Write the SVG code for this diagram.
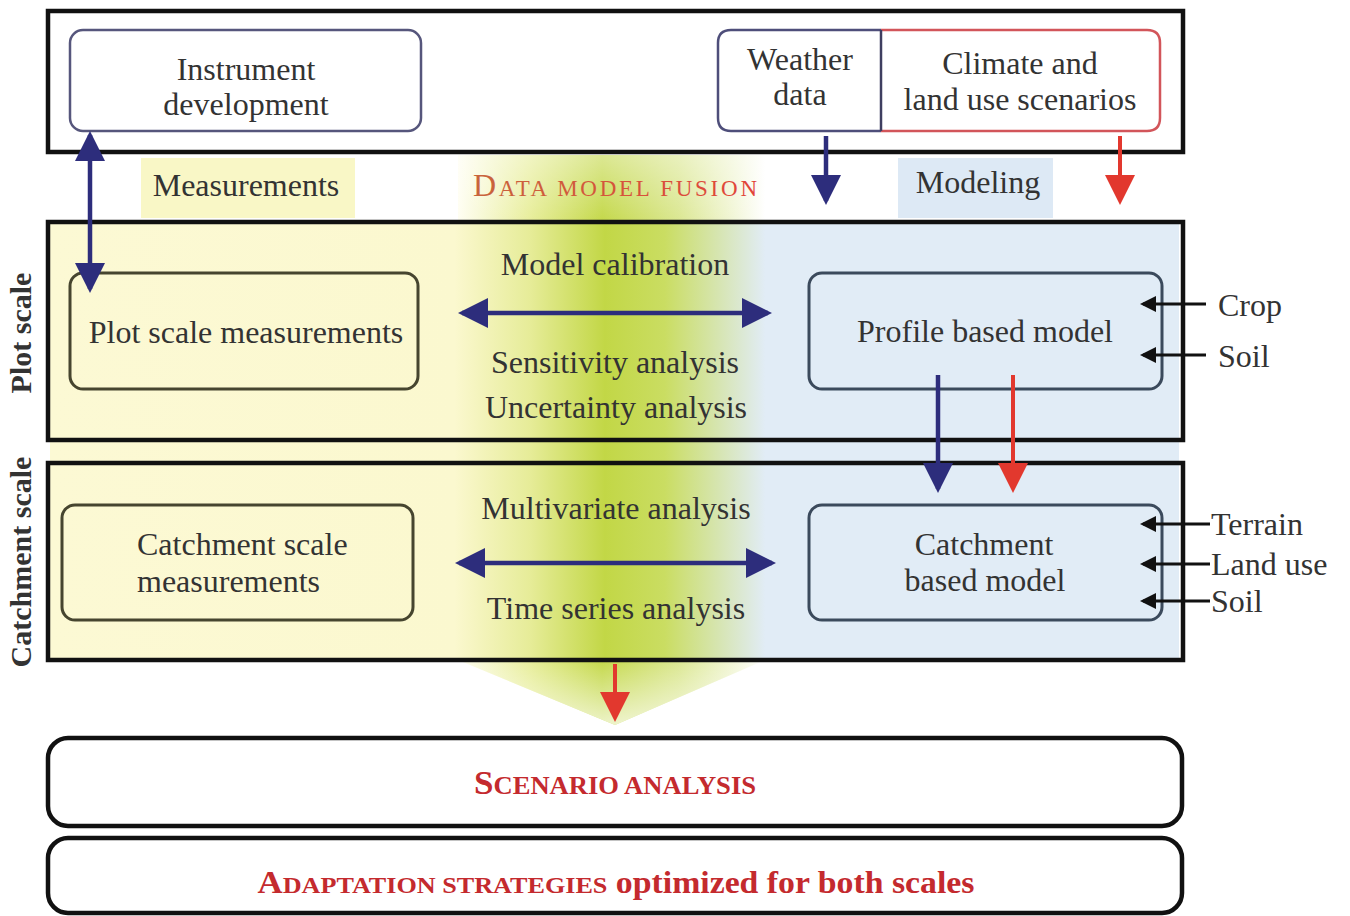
<svg xmlns="http://www.w3.org/2000/svg" width="1350" height="916" viewBox="0 0 1350 916">
<defs>
<style>
text { font-family: "Liberation Serif", "Times New Roman", serif; fill: #333; font-size: 32px; }
.mid { text-anchor: middle; }
.frame { fill: none; stroke: #111; stroke-width: 4.5; }
.rbox { fill: none; stroke-width: 3; }
.meas { stroke: #46452f; }
.model { stroke: #3b4a5c; }
.big { fill: #fff; stroke: #111; stroke-width: 4.5; }
.red { fill: #c42a2e; font-weight: bold; }
.blue { stroke: #2d2d7c; stroke-width: 4.5; fill: none; }
.redl { stroke: #e2382e; stroke-width: 4; fill: none; }
.blk { stroke: #111; stroke-width: 3; fill: none; }
.vlab { font-weight: bold; font-size: 30px; }
</style>
<linearGradient id="bg" gradientUnits="userSpaceOnUse" x1="50" y1="0" x2="1180" y2="0">
<stop offset="0" stop-color="#fcf9d4"/>
<stop offset="0.358" stop-color="#fbf8cf"/>
<stop offset="0.425" stop-color="#e6ec98"/>
<stop offset="0.491" stop-color="#c2d746"/>
<stop offset="0.544" stop-color="#cadd62"/>
<stop offset="0.633" stop-color="#e1ecf6"/>
<stop offset="1" stop-color="#e1ecf6"/>
</linearGradient>
<linearGradient id="bgTop" gradientUnits="userSpaceOnUse" x1="458" y1="0" x2="765" y2="0">
<stop offset="0" stop-color="#fffef2"/>
<stop offset="0.23" stop-color="#e8ee9c"/>
<stop offset="0.47" stop-color="#c4d84a"/>
<stop offset="0.72" stop-color="#dbe792"/>
<stop offset="1" stop-color="#ffffff"/>
</linearGradient>
<linearGradient id="topfade" gradientUnits="userSpaceOnUse" x1="0" y1="155" x2="0" y2="222">
<stop offset="0" stop-color="#fff" stop-opacity="0.4"/>
<stop offset="1" stop-color="#fff" stop-opacity="0"/>
</linearGradient>
<linearGradient id="botfade" gradientUnits="userSpaceOnUse" x1="0" y1="660" x2="0" y2="725">
<stop offset="0" stop-color="#fff" stop-opacity="0"/>
<stop offset="1" stop-color="#fff" stop-opacity="0.7"/>
</linearGradient>
<linearGradient id="fusion" gradientUnits="userSpaceOnUse" x1="473" y1="0" x2="757" y2="0">
<stop offset="0" stop-color="#c8643c"/>
<stop offset="1" stop-color="#e2443a"/>
</linearGradient>
<marker id="hb" viewBox="0 0 30 30" refX="26" refY="15" markerWidth="30" markerHeight="30" markerUnits="userSpaceOnUse" orient="auto-start-reverse">
<path d="M0,0 L30,15 L0,30 Z" fill="#2d2d7c"/>
</marker>
<marker id="hr" viewBox="0 0 30 30" refX="26" refY="15" markerWidth="30" markerHeight="30" markerUnits="userSpaceOnUse" orient="auto-start-reverse">
<path d="M0,0 L30,15 L0,30 Z" fill="#e2382e"/>
</marker>
<marker id="hk" viewBox="0 0 16 16" refX="13" refY="8" markerWidth="16" markerHeight="16" markerUnits="userSpaceOnUse" orient="auto">
<path d="M0,0 L16,8 L0,16 Z" fill="#111"/>
</marker>
</defs>

<rect x="0" y="0" width="1350" height="916" fill="#fff"/>

<g id="background">
<path d="M50,222 H1179 V660 H50 Z" fill="url(#bg)"/>
<rect x="458" y="155" width="307" height="67" fill="url(#bgTop)"/>
<rect x="458" y="155" width="307" height="67" fill="url(#topfade)"/>
<path d="M458,660 H765 L615,725 Z" fill="url(#bgTop)"/>
<path d="M458,660 H765 L615,725 Z" fill="url(#botfade)"/>
<rect x="141" y="158" width="214" height="60" fill="#f9f7c6"/>
<rect x="898" y="158" width="155" height="60" fill="#dde9f5"/>
</g>

<g id="top-frame">
<rect class="big" x="48" y="11" width="1135" height="141"/>
</g>

<g id="instrument">
<rect x="70" y="30" width="351" height="101" rx="13" fill="#fff" stroke="#56567c" stroke-width="2.5"/>
<text class="mid" x="246" y="80">Instrument</text>
<text class="mid" x="246" y="115">development</text>
</g>

<g id="weather">
<path d="M881,30 H731 Q718,30 718,43 V118 Q718,131 731,131 H881" fill="#fff" stroke="#4e4e7a" stroke-width="2.5"/>
<text class="mid" x="800" y="70">Weather</text>
<text class="mid" x="800" y="105">data</text>
</g>

<g id="climate">
<path d="M881,30 H1147 Q1160,30 1160,43 V118 Q1160,131 1147,131 H881" fill="#fff" stroke="#d2555a" stroke-width="2.5"/>
<line x1="881" y1="30" x2="881" y2="131" stroke="#3e3e60" stroke-width="2.5"/>
<text class="mid" x="1020" y="74">Climate and</text>
<text class="mid" x="1020" y="110">land use scenarios</text>
</g>

<g id="measurements-label">
<text class="mid" x="246" y="196">Measurements</text>
</g>

<g id="fusion-label">
<text class="mid" x="615" y="196" style="fill:url(#fusion)" textLength="284" lengthAdjust="spacing"><tspan font-size="32">D</tspan><tspan font-size="23">ATA MODEL FUSION</tspan></text>
</g>

<g id="modeling-label">
<text class="mid" x="978" y="193">Modeling</text>
</g>

<g id="plot-frame">
<rect class="frame" x="48" y="222" width="1135" height="218"/>
<text class="mid vlab" transform="translate(31,333) rotate(-90)">Plot scale</text>
</g>

<g id="catchment-frame">
<rect class="frame" x="48" y="463" width="1135" height="197"/>
<text class="mid vlab" transform="translate(31,562) rotate(-90)">Catchment scale</text>
</g>

<g id="plot-measurements">
<rect class="rbox meas" x="70" y="273" width="348" height="116" rx="13"/>
<text class="mid" x="246" y="343">Plot scale measurements</text>
</g>

<g id="profile-model">
<rect class="rbox model" x="809" y="273" width="353" height="116" rx="13"/>
<text class="mid" x="985" y="342">Profile based model</text>
</g>

<g id="catchment-measurements">
<rect class="rbox meas" x="62" y="505" width="351" height="115" rx="13"/>
<text x="137" y="555">Catchment scale</text>
<text x="137" y="592">measurements</text>
</g>

<g id="catchment-model">
<rect class="rbox model" x="809" y="505" width="353" height="115" rx="13"/>
<text class="mid" x="984" y="555">Catchment</text>
<text class="mid" x="985" y="591">based model</text>
</g>

<g id="analysis-labels">
<text class="mid" x="615" y="275">Model calibration</text>
<text class="mid" x="615" y="373">Sensitivity analysis</text>
<text class="mid" x="616" y="418">Uncertainty analysis</text>
<text class="mid" x="616" y="519">Multivariate analysis</text>
<text class="mid" x="616" y="619">Time series analysis</text>
</g>

<g id="inputs">
<text x="1218" y="316">Crop</text>
<text x="1218" y="367">Soil</text>
<text x="1211" y="535">Terrain</text>
<text x="1211" y="575">Land use</text>
<text x="1211" y="612">Soil</text>
</g>

<g id="scenario">
<rect class="big" x="48" y="738" width="1134" height="88" rx="20"/>
<text class="mid red" x="615" y="794" textLength="282" lengthAdjust="spacingAndGlyphs"><tspan font-size="33">S</tspan><tspan font-size="25">CENARIO ANALYSIS</tspan></text>
</g>

<g id="adaptation">
<rect class="big" x="48" y="838" width="1134" height="75" rx="20"/>
<text class="mid red" x="616" y="893" textLength="717" lengthAdjust="spacingAndGlyphs"><tspan font-size="32">A</tspan><tspan font-size="24">DAPTATION STRATEGIES</tspan><tspan font-size="31"> optimized for both scales</tspan></text>
</g>

<g id="connectors">
<line class="blue" x1="90" y1="135" x2="90" y2="289" marker-start="url(#hb)" marker-end="url(#hb)"/>
<line class="blue" x1="462" y1="313" x2="768" y2="313" marker-start="url(#hb)" marker-end="url(#hb)"/>
<line class="blue" x1="459" y1="563" x2="772" y2="563" marker-start="url(#hb)" marker-end="url(#hb)"/>
<line class="blue" x1="826" y1="136" x2="826" y2="201" marker-end="url(#hb)"/>
<line class="redl" x1="1120" y1="136" x2="1120" y2="201" marker-end="url(#hr)"/>
<line class="blue" x1="938" y1="375" x2="938" y2="489" marker-end="url(#hb)"/>
<line class="redl" x1="1013" y1="375" x2="1013" y2="489" marker-end="url(#hr)"/>
<line class="redl" x1="615" y1="664" x2="615" y2="718" marker-end="url(#hr)"/>
<line class="blk" x1="1206" y1="304" x2="1143" y2="304" marker-end="url(#hk)"/>
<line class="blk" x1="1206" y1="355" x2="1143" y2="355" marker-end="url(#hk)"/>
<line class="blk" x1="1210" y1="524" x2="1143" y2="524" marker-end="url(#hk)"/>
<line class="blk" x1="1210" y1="564" x2="1143" y2="564" marker-end="url(#hk)"/>
<line class="blk" x1="1210" y1="601" x2="1143" y2="601" marker-end="url(#hk)"/>
</g>
</svg>
